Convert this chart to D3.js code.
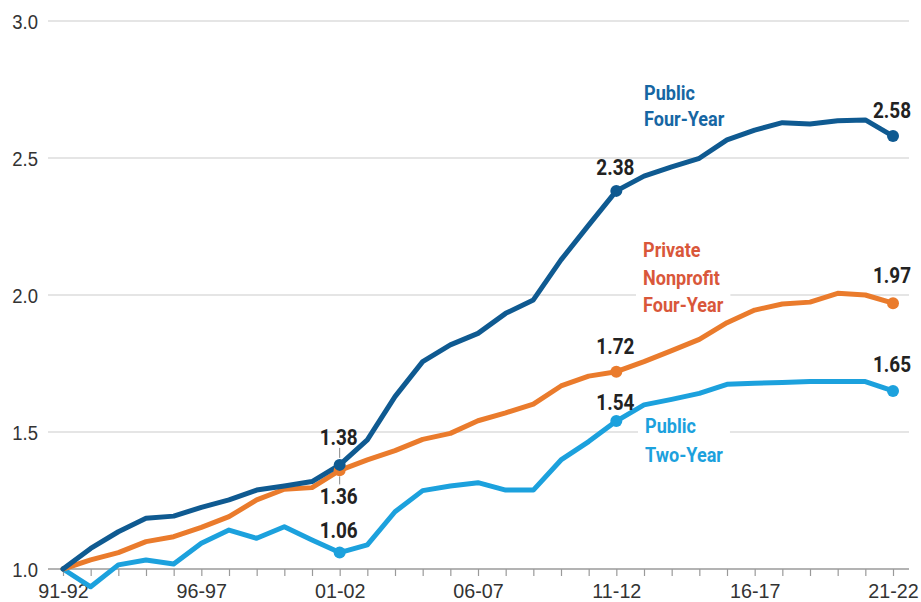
<!DOCTYPE html>
<html><head><meta charset="utf-8">
<script src="https://cdn.jsdelivr.net/npm/d3@7/dist/d3.min.js"></script>
<style>body{margin:0;background:#fff}svg{display:block}</style>
</head><body>
<svg id="chart" width="921" height="602"></svg>
<script>
// ---- data ----
const years = ["91-92","92-93","93-94","94-95","95-96","96-97","97-98","98-99","99-00","00-01",
  "01-02","02-03","03-04","04-05","05-06","06-07","07-08","08-09","09-10","10-11",
  "11-12","12-13","13-14","14-15","15-16","16-17","17-18","18-19","19-20","20-21","21-22"];
const tickLabels = ["91-92","96-97","01-02","06-07","11-12","16-17","21-22"];
const yTicks = [1.0, 1.5, 2.0, 2.5, 3.0];
const publicFour = [1.00,1.075,1.136,1.185,1.193,1.225,1.252,1.288,1.303,1.319,
  1.38,1.471,1.629,1.757,1.818,1.860,1.933,1.982,2.128,2.255,
  2.38,2.434,2.468,2.499,2.566,2.602,2.629,2.624,2.636,2.639,2.58];
const privateNonprofit = [1.00,1.033,1.060,1.100,1.118,1.152,1.191,1.252,1.291,1.297,
  1.36,1.398,1.432,1.473,1.495,1.541,1.570,1.602,1.668,1.704,
  1.72,1.757,1.797,1.838,1.899,1.945,1.967,1.974,2.006,2.000,1.97];
const publicTwo = [1.00,0.935,1.015,1.033,1.018,1.094,1.142,1.112,1.154,1.106,
  1.06,1.088,1.209,1.286,1.303,1.315,1.288,1.288,1.398,1.465,
  1.54,1.599,1.619,1.641,1.674,1.678,1.681,1.684,1.684,1.684,1.65];
const seriesNames = [["Public","Four-Year"],["Private","Nonprofit","Four-Year"],["Public","Two-Year"]];
const markedYears = ["01-02","11-12","21-22"];

// ---- layout / style ----
const svg = d3.select("#chart");
const x = d3.scalePoint().domain(years).range([63, 893]);
const y = d3.scaleLinear().domain([1, 3]).range([569, 21]);
const colors = ["#0f5a91", "#ea7b2c", "#1ca1dd"];
const labelColors = ["#1666a3", "#d9573a", "#1ca1dd"];
const SX = 0.86;

// gridlines
svg.append("g").selectAll("line").data(yTicks.filter(d => d > 1)).join("line")
  .attr("x1", 48).attr("x2", 909).attr("y1", d => y(d)).attr("y2", d => y(d))
  .attr("stroke", "#dcdcdc").attr("stroke-width", 1.5);

// y labels
svg.append("g").selectAll("text").data(yTicks).join("text")
  .attr("transform", d => `translate(38,${y(d) + 7.5}) scale(0.88,1)`)
  .attr("text-anchor", "end").attr("font-family", "Liberation Sans, Arial, sans-serif")
  .attr("font-size", 21).attr("fill", "#333").text(d => d.toFixed(1));

// x axis
const xAxis = d3.axisBottom(x).tickSize(7).tickSizeOuter(0)
  .tickFormat(d => tickLabels.includes(d) ? d : "");
const gx = svg.append("g").attr("transform", "translate(0,569)").call(xAxis);
gx.select(".domain").remove();
gx.append("line").attr("x1", 48).attr("x2", 909).attr("stroke", "#9a9a9a").attr("stroke-width", 1.5);
gx.selectAll(".tick line").attr("stroke", "#9a9a9a").attr("stroke-width", 1.2);
gx.selectAll(".tick text").attr("font-family", "Liberation Sans, Arial, sans-serif")
  .attr("font-size", 21).attr("fill", "#333").attr("y", 10).attr("dy", "0.9em")
  .attr("transform", `scale(0.94,1)`);

// lines
const allSeries = [publicTwo, privateNonprofit, publicFour];
const seriesColors = [colors[2], colors[1], colors[0]];
const line = d3.line().x((d, i) => x(years[i])).y(d => y(d));
svg.append("g").selectAll("path").data(allSeries).join("path")
  .attr("d", line).attr("fill", "none")
  .attr("stroke", (d, i) => seriesColors[i]).attr("stroke-width", 5)
  .attr("stroke-linejoin", "round").attr("stroke-linecap", "round");

// leader lines for 01-02
const li = years.indexOf("01-02");
svg.append("line").attr("x1", x("01-02")).attr("x2", x("01-02"))
  .attr("y1", y(publicFour[li]) - 7).attr("y2", y(publicFour[li]) - 17)
  .attr("stroke", "#888").attr("stroke-width", 1);
svg.append("line").attr("x1", x("01-02")).attr("x2", x("01-02"))
  .attr("y1", y(privateNonprofit[li]) + 6).attr("y2", y(privateNonprofit[li]) + 14)
  .attr("stroke", "#888").attr("stroke-width", 1);

// dots + value labels
const labelOffsets = [
  [-15, -11, -19],   // public two-year
  [34, -18, -20],    // private
  [-20, -16, -18]    // public four-year
];
allSeries.forEach((s, si) => {
  markedYears.forEach((yr, k) => {
    const i = years.indexOf(yr);
    svg.append("circle").attr("cx", x(yr)).attr("cy", y(s[i])).attr("r", 6)
      .attr("fill", seriesColors[si]);
    svg.append("text")
      .attr("transform", `translate(${x(yr) - 1},${y(s[i]) + labelOffsets[si][k]}) scale(${SX},1)`)
      .attr("text-anchor", "middle").attr("font-family", "Roboto, sans-serif")
      .attr("font-weight", 700).attr("font-size", 22).attr("fill", "#222")
      .text(s[i].toFixed(2));
  });
});

// series name labels
const nameLayout = [
  {x: 644, y: 100, dy: 26, c: labelColors[0]},
  {x: 643, y: 257, dy: 27.5, c: labelColors[1]},
  {x: 645, y: 433, dy: 29, c: labelColors[2]}
];
seriesNames.forEach((lines, si) => {
  const L = nameLayout[si];
  const g = svg.append("g");
  lines.forEach((t, k) => {
    g.append("text")
      .attr("transform", `translate(${L.x},${L.y + k * L.dy}) scale(${SX},1)`)
      .attr("font-family", "Roboto, sans-serif").attr("font-weight", 700)
      .attr("font-size", 21).attr("fill", L.c).text(t);
  });
  const bb = g.node().getBBox();
  g.insert("rect", "text").attr("x", bb.x - 7).attr("y", bb.y).attr("width", bb.width + 14)
    .attr("height", bb.height).attr("fill", "#fff");
});
</script>
</body></html>
